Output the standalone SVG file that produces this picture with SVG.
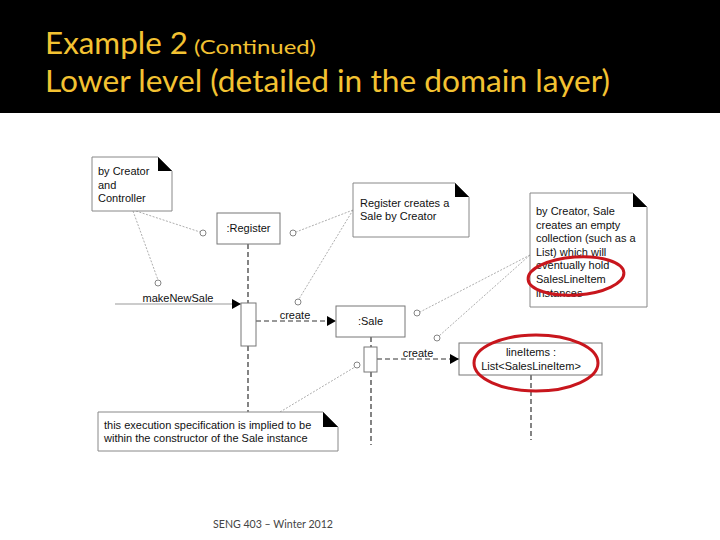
<svg xmlns="http://www.w3.org/2000/svg" width="720" height="540" viewBox="0 0 720 540">
<defs>
<style>
.title{font-family:Lato,"Open Sans","Liberation Sans",sans-serif;fill:#f3c232;}
.t{font-family:"Liberation Sans",Arial,sans-serif;font-size:11px;fill:#111;}
.box{fill:#fff;stroke:#777;stroke-width:1;}
.note{fill:#fff;stroke:#888;stroke-width:1;}
.flap{fill:#000;}
.life{stroke:#333;stroke-width:1.2;stroke-dasharray:5,3;fill:none;}
.msg{stroke:#333;stroke-width:1;fill:none;}
.ret{stroke:#333;stroke-width:1;stroke-dasharray:5,3;fill:none;}
.anchor{stroke:#999;stroke-width:0.8;stroke-dasharray:2,1.5;fill:none;}
.pin{fill:#fff;stroke:#777;stroke-width:0.9;}
.red{fill:none;stroke:#c8161d;stroke-width:3;}
</style>
<marker id="ah" markerWidth="10" markerHeight="10" refX="9" refY="5" orient="auto" markerUnits="userSpaceOnUse">
<path d="M0,0 L9,5 L0,10 Z" fill="#000"/>
</marker>
</defs>
<rect x="0" y="0" width="720" height="540" fill="#fff"/>
<rect x="0" y="0" width="720" height="113" fill="#000"/>
<text class="title" x="45" y="54" font-size="30" textLength="143" lengthAdjust="spacingAndGlyphs">Example 2</text>
<text class="title" x="194" y="54" font-size="20" textLength="122" lengthAdjust="spacingAndGlyphs">(Continued)</text>
<text class="title" x="45" y="92" font-size="30" textLength="565" lengthAdjust="spacingAndGlyphs">Lower level (detailed in the domain layer)</text>

<g id="connectors">
<line class="life" x1="248" y1="244" x2="248" y2="303"/>
<line class="life" x1="248" y1="346" x2="248" y2="412"/>
<line class="life" x1="371" y1="337" x2="371" y2="347"/>
<line class="life" x1="371" y1="372" x2="371" y2="445"/>
<line class="life" x1="531" y1="375" x2="531" y2="440"/>
<line x1="115" y1="304" x2="241" y2="304" stroke="#999" stroke-width="1" marker-end="url(#ah)"/>
<text class="t" x="178" y="302" text-anchor="middle">makeNewSale</text>
<line class="ret" x1="256" y1="321" x2="336" y2="321" marker-end="url(#ah)"/>
<text class="t" x="295" y="319" text-anchor="middle">create</text>
<line class="ret" x1="377" y1="359" x2="459" y2="359" marker-end="url(#ah)"/>
<text class="t" x="418" y="357" text-anchor="middle">create</text>
<line class="anchor" x1="133" y1="211" x2="158" y2="280"/>
<line class="anchor" x1="136" y1="211" x2="200" y2="232"/>
<line class="anchor" x1="353" y1="210" x2="296" y2="232"/>
<line class="anchor" x1="353" y1="210" x2="299" y2="299"/>
<line class="anchor" x1="530" y1="255" x2="420" y2="312"/>
<line class="anchor" x1="530" y1="255" x2="439" y2="336"/>
<line class="anchor" x1="280" y1="412" x2="355" y2="367"/>
<circle class="pin" cx="158" cy="283" r="3"/>
<circle class="pin" cx="203" cy="233" r="3"/>
<circle class="pin" cx="293" cy="233" r="3"/>
<circle class="pin" cx="298" cy="302" r="3"/>
<circle class="pin" cx="417" cy="313" r="3"/>
<circle class="pin" cx="437" cy="338" r="3"/>
<circle class="pin" cx="357" cy="365" r="3"/>
</g>

<g id="note-creator">
<path class="note" d="M92,157 H158 L172,171 V211 H92 Z"/>
<path class="flap" d="M158,157 V171 H172 Z"/>
<text class="t" x="98" y="175">by Creator</text>
<text class="t" x="98" y="189">and</text>
<text class="t" x="98" y="202">Controller</text>
</g>

<g id="register">
<rect class="box" x="217" y="213" width="63" height="31"/>
<text class="t" x="248.5" y="232" text-anchor="middle">:Register</text>
</g>
<g id="register-activation">
<rect class="box" x="241" y="303" width="15" height="43"/>
</g>

<g id="note-register">
<path class="note" d="M353,183 H455 L469,197 V237 H353 Z"/>
<path class="flap" d="M455,183 V197 H469 Z"/>
<text class="t" x="360" y="207">Register creates a</text>
<text class="t" x="360" y="220">Sale by Creator</text>
</g>

<g id="sale">
<rect class="box" x="336" y="306" width="69" height="31"/>
<text class="t" x="370.5" y="325" text-anchor="middle">:Sale</text>
</g>
<g id="sale-activation">
<rect class="box" x="364" y="347" width="13" height="25"/>
</g>

<g id="lineitems">
<rect class="box" x="459" y="343" width="143" height="32"/>
<text class="t" x="531" y="356" text-anchor="middle">lineItems :</text>
<text class="t" x="531" y="370" text-anchor="middle">List&lt;SalesLineItem&gt;</text>
</g>

<g id="note-sale">
<path class="note" d="M530,193 H633 L647,207 V307 H530 Z"/>
<path class="flap" d="M633,193 V207 H647 Z"/>
<text class="t" x="536" y="215">by Creator, Sale</text>
<text class="t" x="536" y="229">creates an empty</text>
<text class="t" x="536" y="242">collection (such as a</text>
<text class="t" x="536" y="256">List) which will</text>
<text class="t" x="536" y="269">eventually hold</text>
<text class="t" x="536" y="283">SalesLineItem</text>
<text class="t" x="536" y="297">instances</text>
</g>

<g id="note-exec">
<path class="note" d="M98,412 H323 L338,427 V451 H98 Z"/>
<path class="flap" d="M323,412 V427 H338 Z"/>
<text class="t" x="104" y="429">this execution specification is implied to be</text>
<text class="t" x="104" y="442">within the constructor of the Sale instance</text>
</g>

<g id="highlights">
<ellipse class="red" cx="576" cy="276" rx="48" ry="19" transform="rotate(-4 576 276)"/>
<ellipse class="red" cx="536" cy="363" rx="62" ry="28"/>
</g>

<text x="213" y="528" font-family="Lato,'Open Sans',sans-serif" font-size="11" fill="#444" textLength="120" lengthAdjust="spacingAndGlyphs">SENG 403 – Winter 2012</text>
</svg>
